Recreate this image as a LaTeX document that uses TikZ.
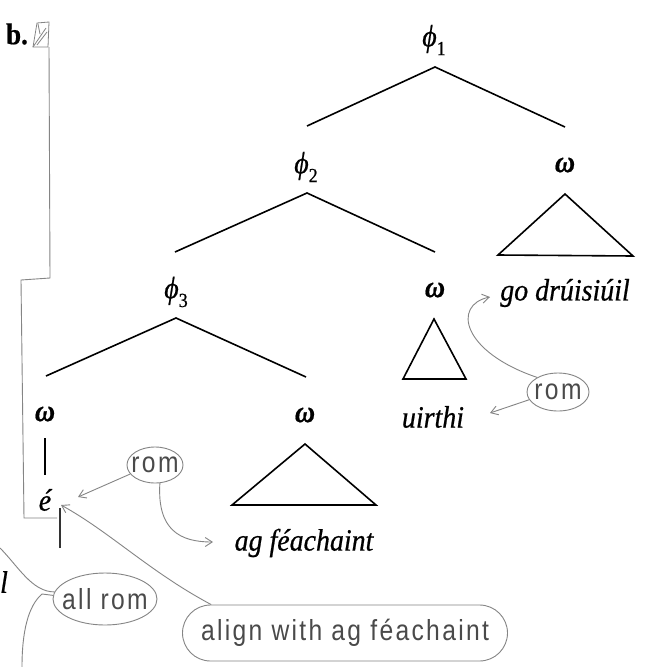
\documentclass[tikz,border=0pt]{standalone}
\usepackage{fontspec}
\setmainfont[FakeStretch=0.9,FakeBold=0.6]{Liberation Serif}
\newfontfamily\handfont[FakeStretch=0.85,LetterSpace=8]{Liberation Sans}
\usetikzlibrary{arrows.meta,shapes.geometric,shapes.misc}
\definecolor{annot}{HTML}{858585}
\definecolor{anntext}{HTML}{4A4A4A}
\newcommand\lowsub[1]{\raisebox{-0.28em}{\upshape\fontsize{20}{20}\selectfont #1}}
\begin{document}
\begin{tikzpicture}[x=1pt,y=-1pt,
  tree/.style={line width=1.6pt,black,line join=miter},
  lbl/.style={inner sep=0pt,font=\fontsize{31}{33}\selectfont},
  word/.style={inner sep=0pt,font=\fontsize{31}{33}\selectfont\itshape},
  omega/.style={inner sep=0pt,font=\fontsize{31}{33}\selectfont\bfseries\itshape},
  ann/.style={draw=annot,line width=0.9pt},
  annarrow/.style={ann,-{Straight Barb[length=7pt,width=9pt]}},
  bubble/.style={ellipse,draw=annot,line width=0.9pt,inner sep=0pt,text=anntext,font=\handfont\fontsize{29}{31}\selectfont},
  longbubble/.style={rounded rectangle,draw=annot,line width=0.9pt,inner sep=0pt,text=anntext,font=\handfont\fontsize{29}{31}\selectfont}
]
\fill[white] (0,0) rectangle (645,667);
\useasboundingbox (0,0) rectangle (645,667);

% labels
\node[lbl,font=\fontsize{30}{32}\selectfont\bfseries] (b) at (17,34) {b.};
\node[lbl] (phi1) at (434,40) {\itshape ϕ\lowsub{1}};
\node[lbl] (phi2) at (306,167) {\itshape ϕ\lowsub{2}};
\node[lbl] (phi3) at (176,292) {\itshape ϕ\lowsub{3}};
\node[omega] (w1) at (565,165) {ω};
\node[omega] (w2) at (435,290) {ω};
\node[omega] (w3) at (45,414) {ω};
\node[omega] (w4) at (305,415) {ω};
\node[word] (go) at (565,293) {go drúisiúil};
\node[word] (uir) at (433,417) {uirthi};
\node[word] (e) at (45,500) {é};
\node[word] (ag) at (304,543) {ag féachaint};
\node[word] (ell) at (4,582) {l};

% tree skeleton
\coordinate (p1) at (435,67);  \coordinate (p1l) at (307,126); \coordinate (p1r) at (565,127);
\coordinate (p2) at (307,193); \coordinate (p2l) at (175,252); \coordinate (p2r) at (435,252);
\coordinate (p3) at (176,318); \coordinate (p3l) at (46,376);  \coordinate (p3r) at (306,377);
\draw[tree] (p1l) -- (p1) -- (p1r);
\draw[tree] (p2l) -- (p2) -- (p2r);
\draw[tree] (p3l) -- (p3) -- (p3r);
\draw[tree] (565,194) -- (498,255) -- (633,256) -- cycle;
\draw[tree] (434,319) -- (403,379) -- (466,379) -- cycle;
\draw[tree] (305,444) -- (232,505) -- (376,505) -- cycle;
\draw[tree] (45,438) -- (45,475);

% hand annotations
\draw[annot,line width=0.8pt] (37,23) -- (49,22) -- (48,47) -- (33,47) -- cycle;
\draw[annot,line width=0.8pt] (33,47) -- (46,28) (37,45) -- (47,32) (40,34) -- (38,24);
\coordinate (boxb) at (49,47);
\draw[ann] (boxb) -- (50,278) -- (21,280) -- (24,518) -- (57,518);

\node[bubble,minimum width=56,minimum height=36,inner xsep=-5pt] (rom1) at (155,465) {rom};
\node[bubble,minimum width=62,minimum height=38,inner xsep=-3pt] (rom2) at (558,392) {rom};
\node[bubble,minimum width=104,minimum height=52,inner xsep=-12pt] (allrom) at (105,599) {all rom};
\node[longbubble,minimum width=325,minimum height=56] (align) at (345,633) {align with ag féachaint};

\coordinate (etip) at (78,497);
\coordinate (agtip) at (213,542);
\coordinate (uirtip) at (490,413);
\coordinate (gotip) at (490,297);
\coordinate (etip2) at (61,505);
\coordinate (offl) at (0,548);
\coordinate (offb) at (22,667);

\draw[annarrow] (rom1.200) -- (etip);
\draw[annarrow] (rom1.285) .. controls (157,530) and (180,542) .. (agtip);
\draw[annarrow] (rom2.195) -- (uirtip);
\draw[annarrow] (rom2.145) .. controls (462,352) and (452,305) .. (gotip);
\draw[ann] (offl) .. controls (18,566) and (32,592) .. (allrom.172);
\draw[ann] (allrom.176) -- (42,594) .. controls (28,606) and (22,632) .. (offb);
\draw[line width=1.3pt,black!80] (60,548) -- (60,508);
\draw[annarrow] (align.168) .. controls (150,572) and (110,532) .. (etip2);
\end{tikzpicture}
\end{document}
